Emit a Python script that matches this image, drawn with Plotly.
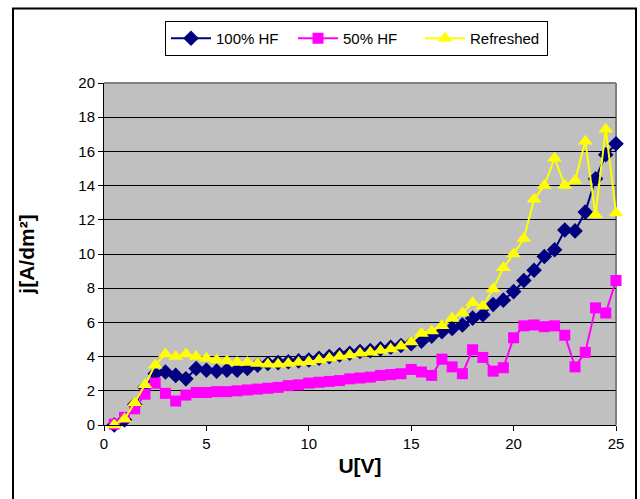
import plotly.graph_objects as go

voltage = [0.5, 1.0, 1.5, 2.0, 2.5, 3.0, 3.5, 4.0, 4.5, 5.0,
           5.5, 6.0, 6.5, 7.0, 7.5, 8.0, 8.5, 9.0, 9.5, 10.0,
           10.5, 11.0, 11.5, 12.0, 12.5, 13.0, 13.5, 14.0, 14.5, 15.0,
           15.5, 16.0, 16.5, 17.0, 17.5, 18.0, 18.5, 19.0, 19.5, 20.0,
           20.5, 21.0, 21.5, 22.0, 22.5, 23.0, 23.5, 24.0, 24.5, 25.0]

hf100 = [0.0, 0.3, 1.2, 2.2, 3.0, 3.1, 2.9, 2.7, 3.3, 3.2,
         3.15, 3.2, 3.2, 3.3, 3.5, 3.6, 3.65, 3.7, 3.75, 3.8,
         3.9, 4.0, 4.1, 4.2, 4.3, 4.35, 4.45, 4.55, 4.65, 4.75,
         4.9, 5.2, 5.45, 5.65, 5.85, 6.25, 6.45, 7.05, 7.3, 7.8,
         8.45, 9.05, 9.85, 10.25, 11.4, 11.35, 12.45, 14.4, 15.8, 16.45]

hf50 = [0.05, 0.45, 0.95, 1.8, 2.45, 1.85, 1.4, 1.75, 1.9, 1.9,
        1.95, 1.95, 2.0, 2.05, 2.1, 2.15, 2.2, 2.3, 2.35, 2.45,
        2.5, 2.55, 2.6, 2.7, 2.75, 2.8, 2.9, 2.95, 3.0, 3.25,
        3.1, 2.9, 3.85, 3.4, 3.0, 4.4, 3.95, 3.15, 3.35, 5.1,
        5.8, 5.85, 5.75, 5.8, 5.25, 3.4, 4.25, 6.85, 6.55, 8.45]

refreshed = [0.0, 0.35, 1.3, 2.35, 3.5, 4.15, 4.0, 4.15, 4.0, 3.9,
             3.8, 3.75, 3.65, 3.65, 3.6, 3.55, 3.55, 3.6, 3.65, 3.7,
             3.8, 3.9, 4.0, 4.1, 4.2, 4.25, 4.35, 4.45, 4.6, 4.85,
             5.35, 5.5, 5.8, 6.25, 6.55, 7.15, 6.95, 7.95, 9.2, 10.0,
             10.9, 13.2, 14.0, 15.6, 14.0, 14.3, 16.6, 12.3, 17.3, 12.4]

series_names = ["100% HF", "50% HF", "Refreshed"]
x_ticks = [0, 5, 10, 15, 20, 25]
y_ticks = [0, 2, 4, 6, 8, 10, 12, 14, 16, 18, 20]

FONT = "Liberation Sans, Arial, sans-serif"

fig = go.Figure()
fig.add_trace(go.Scatter(
    x=voltage, y=hf100, name=series_names[0], mode="lines+markers",
    line=dict(color="#000080", width=2),
    marker=dict(symbol="diamond", size=12, color="#000080"),
    cliponaxis=False))
fig.add_trace(go.Scatter(
    x=voltage, y=hf50, name=series_names[1], mode="lines+markers",
    line=dict(color="#FF00FF", width=2),
    marker=dict(symbol="square", size=11, color="#FF00FF"),
    cliponaxis=False))
fig.add_trace(go.Scatter(
    x=voltage, y=refreshed, name=series_names[2], mode="lines+markers",
    line=dict(color="#FFFF00", width=2),
    marker=dict(symbol="triangle-up", size=13, color="#FFFF00"),
    cliponaxis=False))

L, R, T, B = 104, 24, 83, 74
W, H = 640, 499
pw, ph = W - L - R, H - T - B

def px(xp):
    return (xp - L) / pw

def py(yp):
    return (H - B - yp) / ph

fig.update_layout(
    width=W, height=H,
    margin=dict(l=L, r=R, t=T, b=B, pad=0, autoexpand=False),
    paper_bgcolor="white",
    plot_bgcolor="#C0C0C0",
    font=dict(family=FONT, size=15, color="black"),
    showlegend=True,
    legend=dict(
        orientation="h", x=px(165), xanchor="left", y=py(21), yanchor="top",
        bgcolor="white", bordercolor="black", borderwidth=1,
        font=dict(family=FONT, size=15, color="black"),
        itemwidth=40, tracegroupgap=0, entrywidth=72, entrywidthmode="pixels",
    ),
    xaxis=dict(
        range=[0, 25], tickvals=x_ticks, showgrid=False, zeroline=False,
        showline=True, linecolor="black", linewidth=1, automargin=False,
        ticks="outside", ticklen=5, tickcolor="black", tickwidth=1,
        tickfont=dict(family=FONT, size=15),
        title=dict(text="<b>U[V]</b>", font=dict(family=FONT, size=21, color="black"), standoff=7),
    ),
    yaxis=dict(
        range=[0, 20], tickvals=y_ticks, showgrid=True, gridcolor="black", gridwidth=1,
        zeroline=False, showline=True, linecolor="black", linewidth=1, automargin=False,
        ticks="outside", ticklen=5, tickcolor="black", tickwidth=1,
        tickfont=dict(family=FONT, size=15),
        title=dict(text="<b>j[A/dm²]</b>", font=dict(family=FONT, size=21, color="black"), standoff=37),
    ),
    shapes=[
        dict(type="line", xref="paper", yref="paper", x0=0, x1=1, y0=1, y1=1,
             line=dict(color="#808080", width=2), layer="between"),
        dict(type="line", xref="paper", yref="paper", x0=1, x1=1, y0=0, y1=1,
             line=dict(color="#808080", width=2), layer="between"),
        dict(type="rect", xref="paper", yref="paper",
             x0=px(13), x1=px(636), y0=py(520), y1=py(8.5),
             line=dict(color="black", width=2), layer="above"),
    ],
)

fig.write_html(
    "out.html",
    config={"displayModeBar": False},
    post_script="document.body.style.margin='0px';document.body.style.overflow='hidden';",
)
